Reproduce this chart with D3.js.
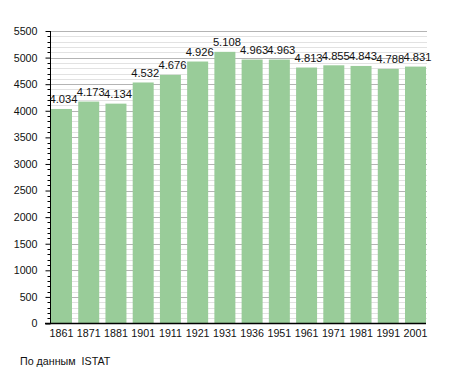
<!DOCTYPE html>
<html><head><meta charset="utf-8">
<script src="https://cdnjs.cloudflare.com/ajax/libs/d3/7.8.5/d3.min.js"></script>
<style>body{margin:0;background:#fff;}svg{display:block;font-family:"Liberation Sans",Arial,sans-serif;}</style>
</head><body>
<script>
const years = ["1861","1871","1881","1901","1911","1921","1931","1936","1951","1961","1971","1981","1991","2001"];
const population = [4034,4173,4134,4532,4676,4926,5108,4963,4963,4813,4855,4843,4788,4831];
const yTicks = [0,500,1000,1500,2000,2500,3000,3500,4000,4500,5000,5500];
const sourceText = "По данным  ISTAT";

const W = 455, H = 373, FS = 10.7;
const svg = d3.select("body").append("svg").attr("width", W).attr("height", H);

const x = d3.scaleBand().domain(years).range([51, 426]).paddingInner(0.229).paddingOuter(0);
const y = d3.scaleLinear().domain([0, 5500]).range([323.5, 31]);

// minor grid
const minor = d3.range(0, 5501, 100).filter(v => v % 500 !== 0);
svg.append("g").selectAll("line").data(minor).join("line")
  .attr("x1", 50).attr("x2", 427)
  .attr("y1", d => Math.round(y(d)) + 0.5).attr("y2", d => Math.round(y(d)) + 0.5)
  .attr("stroke", "#e2e2e2").attr("stroke-width", 1);
// major grid
svg.append("g").selectAll("line").data(yTicks.filter(d => d > 0)).join("line")
  .attr("x1", 50).attr("x2", 427)
  .attr("y1", d => Math.round(y(d)) + 0.5).attr("y2", d => Math.round(y(d)) + 0.5)
  .attr("stroke", "#b4b4b4").attr("stroke-width", 1);

// bars
svg.append("g").selectAll("rect").data(population).join("rect")
  .attr("x", (d, i) => x(years[i]))
  .attr("width", x.bandwidth())
  .attr("y", d => y(d))
  .attr("height", d => y(0) - y(d))
  .attr("fill", "#99cc99");

// value labels
const fmt = v => d3.format(",")(v).replace(/,/g, ".");
svg.append("g").selectAll("text").data(population).join("text")
  .attr("x", (d, i) => x(years[i]) - 1.5)
  .attr("y", d => y(d) - 5.5)
  .attr("font-size", FS + 0.5).attr("fill", "#111")
  .text(d => fmt(d));

// y axis
const yAxis = d3.axisLeft(y).tickValues(yTicks).tickSize(5).tickPadding(8).tickFormat(d3.format("d"));
const ga = svg.append("g").attr("transform", "translate(50.5,0)").call(yAxis);
ga.select(".domain").attr("d", `M0,${y(5500)}V${y(0)}`).attr("stroke", "#000");
ga.selectAll(".tick line").attr("stroke", "#000");
ga.selectAll(".tick text").attr("font-size", FS).attr("font-family", "Liberation Sans, Arial, sans-serif").attr("fill", "#111");
// minor ticks
ga.append("g").selectAll("line").data(minor).join("line")
  .attr("x1", -3).attr("x2", 0)
  .attr("y1", d => Math.round(y(d)) + 0.5).attr("y2", d => Math.round(y(d)) + 0.5)
  .attr("stroke", "#000");

// x axis
const xAxis = d3.axisBottom(x).tickSize(0).tickPadding(6);
const gx = svg.append("g").attr("transform", `translate(0,${y(0)})`).call(xAxis);
gx.select(".domain").attr("d", `M45,0H426`).attr("stroke", "#000").attr("stroke-width", 1.5);
gx.selectAll(".tick text").attr("font-size", FS).attr("font-family", "Liberation Sans, Arial, sans-serif").attr("fill", "#111");

svg.append("text").attr("x", 20).attr("y", 365).attr("font-size", FS).attr("fill", "#111")
  .attr("xml:space", "preserve").style("white-space", "pre").text(sourceText);
</script>
</body></html>
